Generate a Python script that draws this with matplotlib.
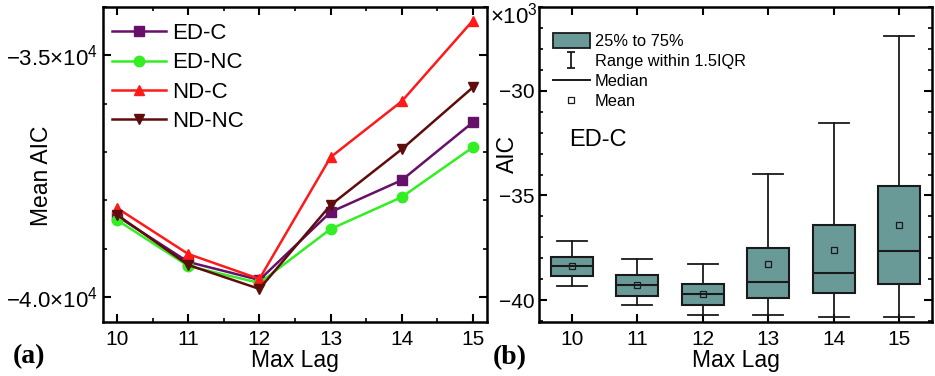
import matplotlib.pyplot as plt
import numpy as np
from matplotlib.lines import Line2D
from matplotlib.patches import Patch
from matplotlib.path import Path
from matplotlib.ticker import FixedLocator, MultipleLocator

plt.rcParams['font.family'] = ['Liberation Sans', 'DejaVu Sans']
plt.rcParams['mathtext.fontset'] = 'custom'
plt.rcParams['mathtext.rm'] = 'Liberation Sans'

# left panel: mean AIC per max lag
lags = [10, 11, 12, 13, 14, 15]
ed_c = [-38326, -39277, -39649, -38244, -37583, -36384]
ed_nc = [-38409, -39360, -39711, -38595, -37934, -36901]
nd_c = [-38161, -39112, -39628, -37107, -35950, -34277]
nd_nc = [-38300, -39339, -39835, -38099, -36942, -35661]

# right panel: ED-C AIC distribution (x1000)
whis_hi = [-37.16, -38.05, -38.29, -33.96, -31.52, -27.40]
q3 = [-37.96, -38.82, -39.21, -37.51, -36.43, -34.53]
median = [-38.37, -39.30, -39.69, -39.14, -38.69, -37.64]
mean = [-38.36, -39.30, -39.69, -38.28, -37.61, -36.41]
q1 = [-38.85, -39.81, -40.22, -39.89, -39.68, -39.23]
whis_lo = [-39.31, -40.22, -40.72, -40.72, -40.80, -40.83]

fig = plt.figure(figsize=(9.35, 3.76), dpi=100)
ax1 = fig.add_axes([0.110, 0.1436, 0.411, 0.8374])
ax2 = fig.add_axes([0.5765, 0.1436, 0.4203, 0.8374])

series = [
    ('ED-C', ed_c, '#66106a', 's'),
    ('ED-NC', ed_nc, '#33ee22', 'o'),
    ('ND-C', nd_c, '#ff1a1a', '^'),
    ('ND-NC', nd_nc, '#5e0c0c', 'v'),
]
for name, vals, col, mk in series:
    ax1.plot(lags, vals, color=col, marker=mk, markersize=7.5, linewidth=1.8, label=name)

ax1.set_xlim(9.8, 15.2)
ax1.set_ylim(-40520, -34000)
ax1.set_xticks(lags)
ax1.xaxis.set_minor_locator(MultipleLocator(0.5))
ax1.yaxis.set_major_locator(FixedLocator([-40000, -35000]))
ax1.set_yticklabels([r'$-4.0{\times}10^4$', r'$-3.5{\times}10^4$'], fontsize=16)
ax1.yaxis.set_minor_locator(MultipleLocator(1000))
ax1.set_xlabel('Max Lag', fontsize=16.5, va='top')
ax1.xaxis.set_label_coords(0.5, -0.085)
ax1.set_ylabel('Mean AIC', fontsize=16.5, va='center')
ax1.yaxis.set_label_coords(-0.159, 0.463)
ax1.legend(loc='upper left', bbox_to_anchor=(0.025, 0.95), frameon=False,
           fontsize=16, handlelength=2.4, handletextpad=0.3, labelspacing=0.38,
           borderaxespad=0, borderpad=0)

# box plot
stats = []
for i in range(len(lags)):
    stats.append(dict(whishi=whis_hi[i], q3=q3[i], med=median[i], mean=mean[i],
                      q1=q1[i], whislo=whis_lo[i], fliers=[]))
ax2.bxp(stats, positions=lags, widths=0.64, patch_artist=True, showmeans=True,
        capwidths=0.46,
        boxprops=dict(facecolor='#699a98', edgecolor='#1a1a1a', linewidth=1.5),
        medianprops=dict(color='#1a1a1a', linewidth=1.5),
        whiskerprops=dict(color='#1a1a1a', linewidth=1.3),
        capprops=dict(color='#1a1a1a', linewidth=1.3),
        meanprops=dict(marker='s', markersize=4, markerfacecolor='none',
                       markeredgecolor='#1a1a1a', markeredgewidth=0.9))
ax2.set_xlim(9.5, 15.5)
ax2.set_ylim(-41.05, -26)
ax2.set_xticks(lags)
ax2.set_xticklabels([str(v) for v in lags])
ax2.yaxis.set_major_locator(FixedLocator([-40, -35, -30]))
ax2.set_yticklabels(['\u221240', '\u221235', '\u221230'])
ax2.yaxis.set_minor_locator(MultipleLocator(1))
ax2.set_xlabel('Max Lag', fontsize=16.5, va='top')
ax2.xaxis.set_label_coords(0.5, -0.085)
ax2.set_ylabel('AIC', fontsize=16.5, va='center')
ax2.yaxis.set_label_coords(-0.081, 0.533)
fig.text(490 / 935, 1 - 3 / 376, r'$\times10^3$', fontsize=16, ha='left', va='top')
ax2.text(9.96, -32.35, 'ED-C', fontsize=17, va='center')

ibeam = Path([(-0.5, 1), (0.5, 1), (0, 1), (0, -1), (-0.5, -1), (0.5, -1)],
             [Path.MOVETO, Path.LINETO, Path.MOVETO, Path.LINETO, Path.MOVETO, Path.LINETO])
handles = [
    Patch(facecolor='#699a98', edgecolor='#1a1a1a', linewidth=1.3),
    Line2D([], [], color='#1a1a1a', marker=ibeam, markersize=12, linestyle='none',
           markeredgewidth=1.3),
    Line2D([], [], color='#1a1a1a', linewidth=1.4),
    Line2D([], [], color='#1a1a1a', marker='s', markersize=4, markerfacecolor='none',
           linestyle='none', markeredgewidth=0.9),
]
ax2.legend(handles, ['25% to 75%', 'Range within 1.5IQR', 'Median', 'Mean'],
           loc='upper left', bbox_to_anchor=(0.035, 0.917), frameon=False,
           fontsize=11.8, handlelength=2.25, handleheight=1.0, handletextpad=0.3,
           labelspacing=0.25, borderaxespad=0, borderpad=0)

for ax in (ax1, ax2):
    for sp in ax.spines.values():
        sp.set_linewidth(1.8)
    ax.tick_params(which='both', direction='in', top=True, right=True)
    ax.tick_params(axis='x', labelsize=15, pad=6)
    ax.tick_params(which='major', length=6, width=1.5)
    ax.tick_params(which='minor', length=3, width=1.2)
ax2.tick_params(axis='y', labelsize=15)

fig.text(13 / 935, 1 - 357 / 376, '(a)', fontsize=20, fontweight='bold',
         family='Liberation Serif', va='center')
fig.text(493 / 935, 1 - 358 / 376, '(b)', fontsize=20, fontweight='bold',
         family='Liberation Serif', va='center')

fig.savefig('out.png', dpi=100)
